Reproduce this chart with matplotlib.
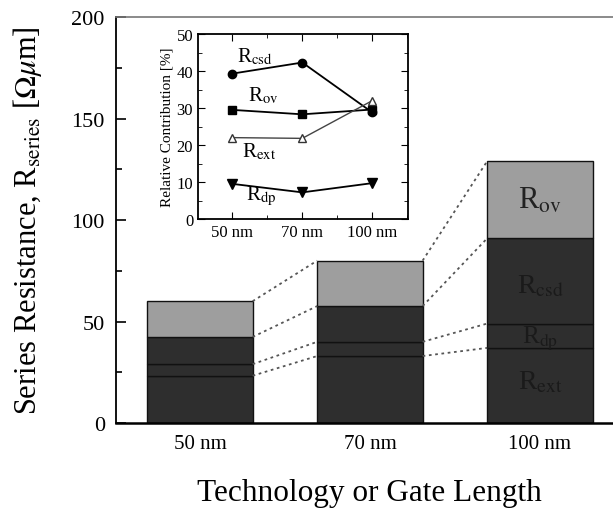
import numpy as np
import matplotlib.pyplot as plt
from matplotlib.ticker import MultipleLocator

plt.rcParams['font.family'] = ['Liberation Serif', 'DejaVu Serif']
plt.rcParams['mathtext.fontset'] = 'stix'

# series resistance components stacked per technology node (bottom to top)
nodes = ['50 nm', '70 nm', '100 nm']
r_ext = [23.3, 33.0, 37.0]
r_dp = [5.7, 7.0, 12.0]
r_csd = [13.4, 17.6, 42.0]
r_ov = [17.6, 22.4, 38.0]

# relative contribution [%] for the inset
rel_csd = [39.3, 42.3, 28.8]
rel_ov = [29.5, 28.3, 29.6]
rel_ext = [22.0, 21.8, 32.0]
rel_dp = [9.5, 7.2, 9.7]

fig = plt.figure(figsize=(6.13, 5.10), dpi=100)
ax = fig.add_axes([0.1892, 0.1686, 0.8108, 0.7961])

x = np.arange(len(nodes))
w = 0.62
dark = '#2e2e2e'
light = '#9e9e9e'

segments = [r_ext, r_dp, r_csd, r_ov]
colors = [dark, dark, dark, light]
bottom = np.zeros(len(nodes))
levels = []
for seg, c in zip(segments, colors):
    ax.bar(x, seg, w, bottom=bottom, color=c, edgecolor='#111111', linewidth=1.0)
    bottom = bottom + np.array(seg)
    levels.append(bottom.copy())

# dotted guides joining the same boundary on neighbouring bars
for lev in levels:
    for i in range(len(nodes) - 1):
        ax.plot([x[i] + w / 2, x[i + 1] - w / 2], [lev[i], lev[i + 1]],
                ls=(0, (1.5, 2.0)), color='#555555', lw=1.3)

# component names on the 100 nm bar
i = 2
ax.text(x[i], r_ext[i] + r_dp[i] + r_csd[i] + r_ov[i] * 0.5, r'R$_{\rm ov}$',
        ha='center', va='center', fontsize=22, color='#222222')
ax.text(x[i], r_ext[i] + r_dp[i] + r_csd[i] * 0.45, r'R$_{\rm csd}$',
        ha='center', va='center', fontsize=20, color='#1a1a1a')
ax.text(x[i], r_ext[i] + r_dp[i] * 0.4, r'R$_{\rm dp}$',
        ha='center', va='center', fontsize=18, color='#1a1a1a')
ax.text(x[i], r_ext[i] * 0.55, r'R$_{\rm ext}$',
        ha='center', va='center', fontsize=20, color='#1a1a1a')

ax.set_xlim(-0.494, 2.43)
ax.set_ylim(0, 200)
ax.set_xticks(x)
ax.set_xticklabels(nodes, fontsize=15)
ax.tick_params(axis='x', length=0, pad=8)
ax.yaxis.set_major_locator(MultipleLocator(50))
ax.yaxis.set_minor_locator(MultipleLocator(25))
ax.tick_params(axis='y', which='both', direction='in', labelsize=16, width=1.2, pad=8)
ax.tick_params(axis='y', which='major', length=7)
ax.tick_params(axis='y', which='minor', length=4)
ax.spines['right'].set_visible(False)
ax.spines['top'].set_color('#777777')
ax.spines['top'].set_linewidth(1.2)
ax.spines['left'].set_linewidth(1.3)
ax.spines['bottom'].set_linewidth(1.8)
ax.set_xlabel('Technology or Gate Length', fontsize=22.5)
ax.xaxis.set_label_coords(0.51, -0.135)
ax.set_ylabel(r'Series Resistance, R$_{\rm series}$ [$\Omega\mu$m]', fontsize=22, labelpad=20)

# inset: relative contribution of each component
ins = fig.add_axes([0.323, 0.5686, 0.3426, 0.3627])
ins.plot(x, rel_csd, '-o', color='black', ms=6, lw=1.3)
ins.plot(x, rel_ov, '-s', color='black', ms=6, lw=1.3)
ins.plot(x, rel_ext, '-^', color='#444444', mfc='white', mec='#333333', ms=6, lw=1.0)
ins.plot(x, rel_dp, '-v', color='black', ms=7, lw=1.3)
ins.text(0.07, 44, r'R$_{\rm csd}$', fontsize=15, va='center')
ins.text(0.23, 33.5, r'R$_{\rm ov}$', fontsize=15, va='center')
ins.text(0.14, 18.5, r'R$_{\rm ext}$', fontsize=15, va='center')
ins.text(0.19, 6.5, r'R$_{\rm dp}$', fontsize=15, va='center')
ins.set_xlim(-0.49, 2.51)
ins.set_ylim(0, 50)
ins.set_xticks(x)
ins.set_xticklabels(nodes, fontsize=12)
ins.xaxis.set_minor_locator(MultipleLocator(0.5))
ins.yaxis.set_major_locator(MultipleLocator(10))
ins.yaxis.set_minor_locator(MultipleLocator(5))
ins.tick_params(which='both', direction='in', labelsize=12, top=True, right=True)
ins.tick_params(which='major', length=5)
ins.tick_params(which='minor', length=3)
for s in ins.spines.values():
    s.set_linewidth(1.3)
ins.set_ylabel('Relative Contribution [%]', fontsize=11, labelpad=2)

fig.savefig('out.png', dpi=100)
